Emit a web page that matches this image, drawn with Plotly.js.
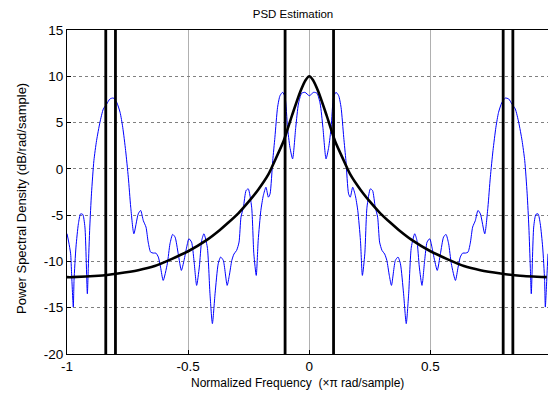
<!DOCTYPE html>
<html><head><meta charset="utf-8">
<script src="https://cdn.plot.ly/plotly-3.0.1.min.js"></script>
<style>html,body{margin:0;padding:0;background:#fff;}#chart{width:548px;height:398px;}</style>
</head><body><div id="chart"></div>
<script>
// Welch PSD estimate (blue), left half, centre, right half
const psdFreqLeft = [-1.000,-0.993,
 -0.985,-0.981,-0.974,-0.971,-0.963,-0.953,-0.944,-0.935,-0.926,-0.916,
 -0.912,-0.906,-0.899,-0.889,-0.878,-0.864,-0.850,-0.836,-0.823,-0.809,
 -0.795,-0.781,-0.770,-0.758,-0.747,-0.737,-0.724,-0.706,-0.696,-0.685,
 -0.674,-0.665,-0.655,-0.644,-0.633,-0.623,-0.614,-0.603,-0.586,-0.575,
 -0.564,-0.554,-0.541,-0.528,-0.517,-0.506,-0.497,-0.486,-0.476,-0.465,
 -0.454,-0.444,-0.435,-0.421,-0.410,-0.400,-0.389,-0.376,-0.366,-0.355,
 -0.339,-0.330,-0.320,-0.311,-0.300,-0.290,-0.282,-0.272,-0.261,-0.252,
 -0.238,-0.229,-0.219,-0.211,-0.200,-0.190,-0.179,-0.169,-0.162,-0.151,
 -0.142,-0.131,-0.121,-0.110,-0.100,-0.090,-0.080,-0.069,-0.056,-0.045,
 -0.032,-0.018];
const psdValLeft = [-7.0,-7.9,
 -9.17,-11.33,-14.93,-12.05,-8.45,-5.93,-4.86,-4.92,-6.29,-13.49,
 -10.61,-6.29,-2.70,0.89,3.05,5.03,6.47,7.01,7.55,7.65,
 7.19,6.11,4.49,1.97,-0.90,-4.14,-7.01,-4.86,-4.49,-5.6,
 -6.29,-7.91,-8.99,-9.10,-9.10,-9.53,-10.61,-12.05,-10.25,-8.09,
 -7.08,-7.37,-9.17,-10.97,-9.89,-8.45,-7.55,-7.91,-9.89,-12.59,
 -10.61,-7.73,-7.01,-8.45,-13.49,-16.72,-13.49,-10.25,-9.53,-9.89,
 -12.59,-11.5,-9.9,-9.2,-8.81,-7.91,-5.22,-4.14,-2.34,-2.16,
 -4.14,-9.17,-11.51,-7.73,-4.5,-2.9,-1.98,-3.06,-2.70,0.89,
 3.41,6.65,7.91,8.27,7.73,4.49,2.33,1.08,4.49,7.01,
 8.16,8.27];
const psdFreqCenter = [0];
const psdValCenter = [7.9];
const psdFreqRight = [
 0.018,0.032,0.045,0.056,0.069,0.080,0.090,0.100,0.110,0.121,
 0.131,0.142,0.151,0.162,0.169,0.179,0.190,0.200,0.211,0.219,
 0.229,0.238,0.252,0.261,0.272,0.282,0.290,0.300,0.311,0.320,
 0.330,0.339,0.355,0.366,0.376,0.389,0.400,0.410,0.421,0.435,
 0.444,0.454,0.465,0.476,0.486,0.497,0.506,0.517,0.528,0.541,
 0.554,0.564,0.575,0.586,0.603,0.614,0.623,0.633,0.644,0.655,
 0.665,0.674,0.685,0.696,0.706,0.724,0.737,0.747,0.758,0.770,
 0.781,0.795,0.809,0.823,0.836,0.850,0.864,0.878,0.889,0.899,
 0.906,0.912,0.916,0.926,0.935,0.944,0.953,0.963,0.971,0.974,
 0.981,0.985];
const psdValRight = [
 8.27,8.16,7.01,4.49,1.08,2.33,4.49,7.73,8.27,7.91,
 6.65,3.41,0.89,-2.70,-3.06,-1.98,-2.9,-4.5,-7.73,-11.51,
 -9.17,-4.14,-2.16,-2.34,-4.14,-5.22,-7.91,-8.81,-9.2,-9.9,
 -11.5,-12.59,-9.89,-9.53,-10.25,-13.49,-16.72,-13.49,-8.45,-7.01,
 -7.73,-10.61,-12.59,-9.89,-7.91,-7.55,-8.45,-9.89,-10.97,-9.17,
 -7.37,-7.08,-8.09,-10.25,-12.05,-10.61,-9.53,-9.10,-9.10,-8.99,
 -7.91,-6.29,-5.6,-4.49,-4.86,-7.01,-4.14,-0.90,1.97,4.49,
 6.11,7.19,7.65,7.55,7.01,6.47,5.03,3.05,0.89,-2.70,
 -6.29,-10.61,-13.49,-6.29,-4.92,-4.86,-5.93,-8.45,-12.05,-14.93,
 -11.33,-9.17];

// Model spectrum (black)
const modelFreq = [-1,-0.98,-0.87,-0.79,-0.706,-0.638,-0.569,-0.5,-0.424,-0.369,-0.334,-0.293,-0.252,-0.211,-0.169,-0.142,-0.106,-0.071,-0.037,-0.015,0,
 0.015,0.037,0.071,0.106,0.142,0.169,0.211,0.252,0.293,0.334,0.369,0.424,0.5,0.569,0.638,0.706,0.79,0.87,0.98];
const modelVal = [-11.7,-11.7,-11.55,-11.3,-10.95,-10.5,-9.75,-8.9,-7.7,-6.6,-5.8,-4.8,-3.6,-2.25,-0.6,0.9,3.0,5.8,8.35,9.6,10.0,
 9.6,8.35,5.8,3.0,0.9,-0.6,-2.25,-3.6,-4.8,-5.8,-6.6,-7.7,-8.9,-9.75,-10.5,-10.95,-11.3,-11.55,-11.7];

// Marker frequencies (vertical lines)
const markerFreqs = [-0.84,-0.8,-0.1,0.1,0.8,0.84];
const yLimits = [-20,15];

const xTickVals = [-1,-0.5,0,0.5];
const xTickText = ['-1','-0.5','0','0.5'];
const yTickVals = [-20,-15,-10,-5,0,5,10,15];
const yTickText = ['-20','-15','-10','-5','0','5','10','15'];

const psdX = psdFreqLeft.concat(psdFreqCenter, psdFreqRight);
const psdY = psdValLeft.concat(psdValCenter, psdValRight);

const vx = [], vy = [];
markerFreqs.forEach(f => { vx.push(f, f, null); vy.push(yLimits[0], yLimits[1], null); });

const traces = [
  {x: psdX, y: psdY, type:'scatter', mode:'lines', line:{color:'#0000ff', width:1, shape:'spline', smoothing:0.6}, hoverinfo:'skip'},
  {x: modelFreq, y: modelVal, type:'scatter', mode:'lines', line:{color:'#000', width:2.6, shape:'spline', smoothing:0.6}, hoverinfo:'skip'},
  {x: vx, y: vy, type:'scatter', mode:'lines', line:{color:'#000', width:2.8}, hoverinfo:'skip', connectgaps:false}
];

const layout = {
  width:548, height:398,
  margin:{l:67, r:0, t:30, b:44, pad:0},
  paper_bgcolor:'#fff', plot_bgcolor:'#fff',
  showlegend:false,
  font:{family:'Liberation Sans, Arial, sans-serif', size:13, color:'#000'},
  title:{text:'PSD Estimation', font:{size:11.5, color:'#000'}, x:293/548, xanchor:'center', xref:'container', y:1-14/398, yanchor:'middle', yref:'container'},
  xaxis:{range:[-1,0.985], tickvals:xTickVals, ticktext:xTickText, ticks:'inside', ticklen:4, tickcolor:'#000', tickfont:{size:13.5},
         showline:true, linecolor:'#000', linewidth:1, mirror:true, showgrid:true, gridcolor:'#b0b0b0', gridwidth:1, zeroline:false},
  yaxis:{range:yLimits, tickvals:yTickVals, ticktext:yTickText, ticks:'inside', ticklen:4, tickcolor:'#000', tickfont:{size:13.5},
         showline:true, linecolor:'#000', linewidth:1, mirror:false, showgrid:true, gridcolor:'#808080', gridwidth:1, griddash:'dot', zeroline:false},
  annotations:[
    {text:'Normalized Frequency  (×π rad/sample)', xref:'paper', yref:'paper', x:(297-67)/481, y:(354-383)/324, xanchor:'center', yanchor:'middle', showarrow:false, font:{size:12, color:'#000'}},
    {text:'Power Spectral Density (dB/rad/sample)', xref:'paper', yref:'paper', x:(21-67)/481, y:(354-199)/324, xanchor:'center', yanchor:'middle', textangle:-90, showarrow:false, font:{size:13, color:'#000'}}
  ]
};

Plotly.newPlot('chart', traces, layout, {displayModeBar:false, staticPlot:true});
</script>
</body></html>
